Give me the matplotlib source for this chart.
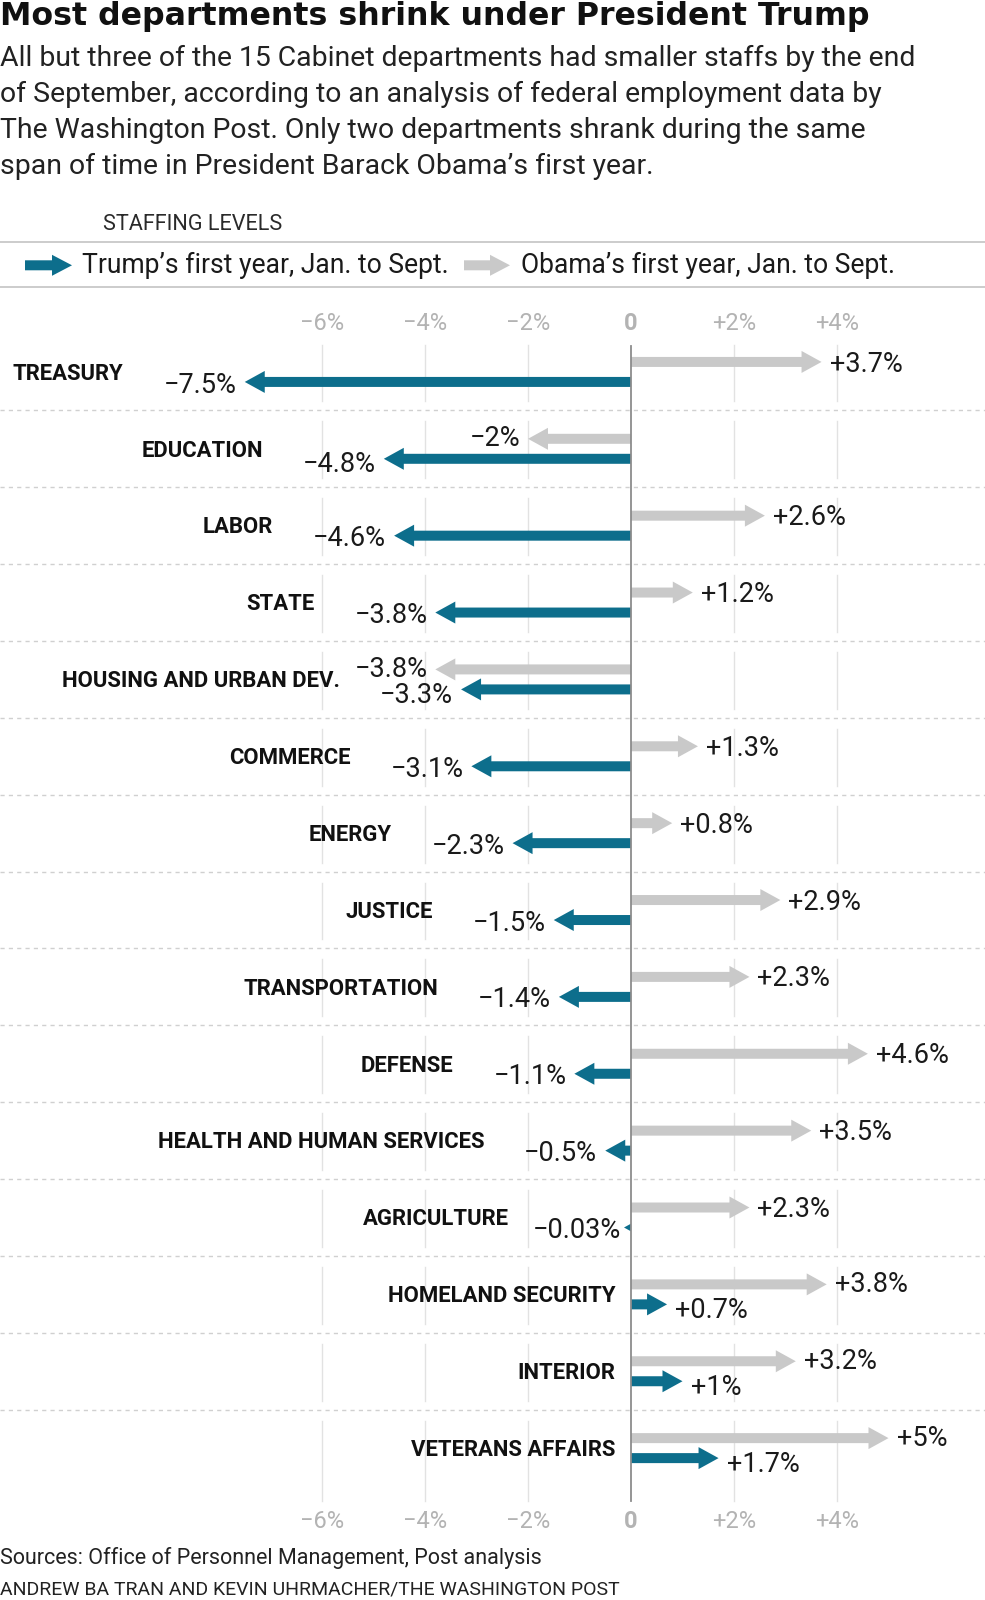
import matplotlib
matplotlib.use("Agg")
import matplotlib.pyplot as plt
from matplotlib.patches import Polygon

# ---------------- data ----------------
departments = ["TREASURY", "EDUCATION", "LABOR", "STATE", "HOUSING AND URBAN DEV.",
               "COMMERCE", "ENERGY", "JUSTICE", "TRANSPORTATION", "DEFENSE",
               "HEALTH AND HUMAN SERVICES", "AGRICULTURE", "HOMELAND SECURITY",
               "INTERIOR", "VETERANS AFFAIRS"]
trump = [-7.5, -4.8, -4.6, -3.8, -3.3, -3.1, -2.3, -1.5, -1.4, -1.1, -0.5, -0.03, 0.7, 1.0, 1.7]
obama = [3.7, -2.0, 2.6, 1.2, -3.8, 1.3, 0.8, 2.9, 2.3, 4.6, 3.5, 2.3, 3.8, 3.2, 5.0]
tick_values = [-6, -4, -2, 0, 2, 4]
tick_labels = ["−6%", "−4%", "−2%", "0", "+2%", "+4%"]

title = "Most departments shrink under President Trump"
subtitle = ["All but three of the 15 Cabinet departments had smaller staffs by the end",
            "of September, according to an analysis of federal employment data by",
            "The Washington Post. Only two departments shrank during the same",
            "span of time in President Barack Obama’s first year."]
legend_title = "STAFFING LEVELS"
legend_trump = "Trump’s first year, Jan. to Sept."
legend_obama = "Obama’s first year, Jan. to Sept."
source = "Sources: Office of Personnel Management, Post analysis"
credit = "ANDREW BA TRAN AND KEVIN UHRMACHER/THE WASHINGTON POST"

# ---------------- style / layout ----------------
W, H = 985, 1600
BLUE = "#0d6e8c"
GRAY = "#c9c9c9"
FONT = ["Roboto", "DejaVu Sans"]
ZERO_PX = 631.0
PPP = 51.5            # pixels per percentage point
ROW_TOP = 333.5
ROW_H = 76.87
OFF = 10.0            # arrow offset from row centre


def fmt(v):
    s = f"{v:+g}%"
    return s.replace("-", "−")


fig = plt.figure(figsize=(W / 100, H / 100), dpi=100)
fig.patch.set_facecolor("white")
ax = fig.add_axes([0, 0, 1, 1])
ax.set_xlim(-ZERO_PX / PPP, (W - ZERO_PX) / PPP)
ax.set_ylim(H, 0)
ax.axis("off")


def px(xpix):
    return (xpix - ZERO_PX) / PPP


def arrow(x0, length_pct, y, color, sw=10, hw=22, hl=20, z=3):
    s = 1 if length_pct >= 0 else -1
    L = abs(length_pct) * PPP
    h = min(hl, L)
    w = hw
    if h < 7:
        w = hw * 7 / hl
        h = 7
    if L > h:
        xb = x0 + s * (L - h) / PPP
        pts = [(x0, y - sw / 2), (xb, y - sw / 2), (xb, y - w / 2),
               (x0 + s * L / PPP, y), (xb, y + w / 2), (xb, y + sw / 2), (x0, y + sw / 2)]
    else:
        pts = [(x0, y - w / 2), (x0 + s * h / PPP, y), (x0, y + w / 2)]
    ax.add_patch(Polygon(pts, closed=True, facecolor=color, edgecolor="none", zorder=z))


n = len(departments)
bounds = [ROW_TOP + i * ROW_H for i in range(n + 1)]

# separators
for b in bounds[1:-1]:
    ax.plot([px(0), px(W)], [b, b], color="#d0d0d0", lw=1, ls=(0, (3, 3)), zorder=1)

# gridlines per row
for i in range(n):
    top = bounds[i] + 11
    bot = bounds[i + 1] - 9 if i < n - 1 else bounds[i + 1] + 14
    for t in tick_values:
        if t == 0:
            continue
        ax.plot([t, t], [top, bot], color="#e2e2e2", lw=1, zorder=1)

# zero line
ax.plot([0, 0], [bounds[0] + 12, bounds[-1] + 14], color="#8c8c8c", lw=1.3, zorder=5)

# tick labels
for t, lab in zip(tick_values, tick_labels):
    for yy in (323, 1521):
        ax.text(t, yy, lab, ha="center", va="center", fontsize=17, color="#b3b3b3",
                family=FONT, fontweight="bold" if t == 0 else "normal")

# rows
for i in range(n):
    yc = (bounds[i] + bounds[i + 1]) / 2
    yg, yb = yc - OFF, yc + OFF
    arrow(0, obama[i], yg, GRAY)
    arrow(0, trump[i], yb, BLUE)
    same = (obama[i] < 0) == (trump[i] < 0)
    lyg = yg - (2 if same else 0)
    lyb = yb + (4 if same else 1)
    for v, ly in ((obama[i], lyg), (trump[i], lyb)):
        if v >= 0:
            ax.text(v + 8 / PPP, ly + 9.6, fmt(v), ha="left", va="baseline",
                    fontsize=19.5, color="#1a1a1a", family=FONT, zorder=6)
        else:
            ax.text(v - 8 / PPP, ly + 9.6, fmt(v), ha="right", va="baseline",
                    fontsize=19.5, color="#1a1a1a", family=FONT, zorder=6)
    lx = trump[i] - 2.35 if trump[i] < 0 else -0.3
    ax.text(lx, yc + 7.8, departments[i], ha="right", va="baseline", fontsize=15.9,
            fontweight="bold", color="#111111", family=FONT, zorder=6)

# header
def ftext(xpix, ypix, s, **kw):
    return fig.text(xpix / W, 1 - ypix / H, s, va="baseline", ha="left", **kw)

ftext(0, 25.5, title, fontsize=22.8, fontweight="bold", color="#111111",
      family=["DejaVu Sans"])
for k, line in enumerate(subtitle):
    ftext(0, 65.7 + 36 * k, line, fontsize=20.4, color="#222222", family=FONT)

ftext(103, 230, legend_title, fontsize=15.6, color="#2a2a2a", family=FONT)
for yy in (241.7, 287.3):
    ax.plot([px(0), px(W)], [yy, yy], color="#c4c4c4", lw=1.2, zorder=1)
arrow(px(25), 47 / PPP, 265.3, BLUE, sw=10, hw=21, hl=20)
ftext(81.7, 273, legend_trump, fontsize=19.1, color="#1a1a1a", family=FONT)
arrow(px(464), 46 / PPP, 265.3, GRAY, sw=10, hw=21, hl=20)
ftext(520.6, 273, legend_obama, fontsize=19.1, color="#1a1a1a", family=FONT)

ftext(0, 1564.3, source, fontsize=15.5, color="#222222", family=FONT)
ftext(0, 1595, credit, fontsize=14, color="#222222", family=FONT)

fig.savefig("out.png", dpi=100, facecolor="white")
